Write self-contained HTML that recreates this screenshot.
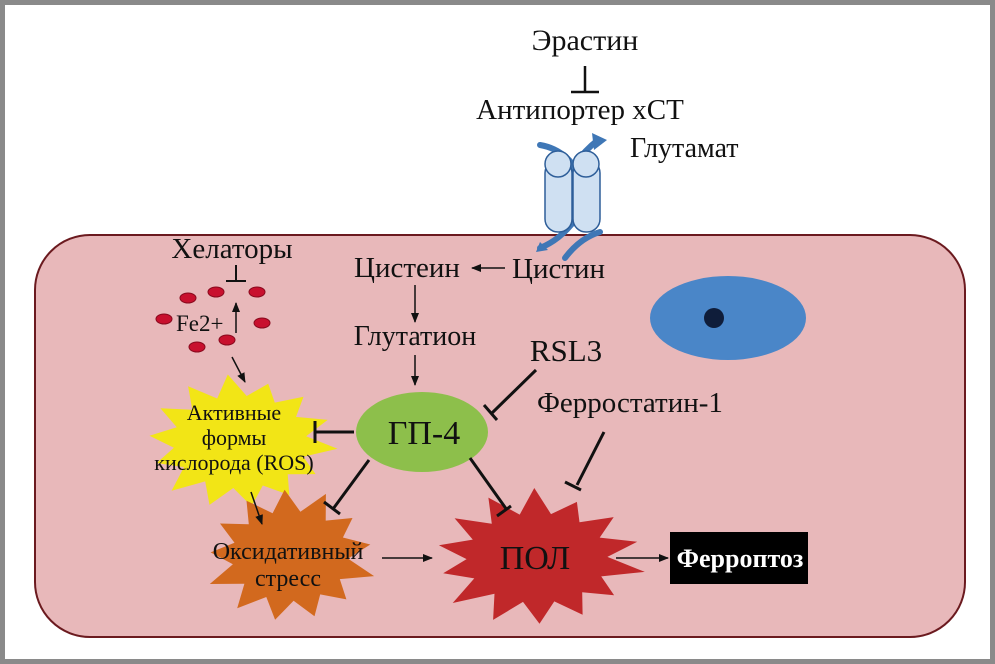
<!DOCTYPE html>
<html><head><meta charset="utf-8"><style>
html,body{margin:0;padding:0;background:#fff}
svg{display:block}
text{font-family:"Liberation Serif",serif;fill:#111}
</style></head><body>
<svg id="s" width="995" height="664" viewBox="0 0 995 664" xmlns="http://www.w3.org/2000/svg">
<defs>
<marker id="a" markerWidth="10" markerHeight="8" refX="9" refY="4" orient="auto" markerUnits="userSpaceOnUse"><path d="M0,0 L10,4 L0,8 Z" fill="#111"/></marker>
</defs>
<rect x="0" y="0" width="995" height="664" fill="#8a8a8a"/>
<rect x="5" y="5" width="985" height="654" fill="#fff"/>
<rect x="35" y="235" width="930" height="402" rx="55" fill="#e8b8ba" stroke="#6b1a1f" stroke-width="2"/>
<ellipse cx="728" cy="318" rx="78" ry="42" fill="#4a86c8"/>
<circle cx="714" cy="318" r="10" fill="#0f1d3a"/>

<text x="585" y="50" font-size="30" text-anchor="middle">Эрастин</text>
<line x1="585" y1="66" x2="585" y2="92" stroke="#111" stroke-width="2.5"/>
<line x1="571" y1="92" x2="599" y2="92" stroke="#111" stroke-width="2.5"/>
<text x="580" y="119" font-size="29" text-anchor="middle">Антипортер xCT</text>
<text x="630" y="157" font-size="28">Глутамат</text>

<g stroke="#3f77b6" stroke-width="6" fill="none" stroke-linecap="round">
<path d="M540,145 Q570,150 585,185"/>
<path d="M600,232 Q580,238 565,258"/>
<path d="M560,195 Q572,160 598,140"/>
<path d="M575,220 Q560,240 540,248"/>
</g>
<path d="M592,133 L607,140 L594,150 Z" fill="#3f77b6"/>
<path d="M540,242 L536,252 L548,250 Z" fill="#3f77b6"/>
<g fill="#cfe0f2" stroke="#2e5e99" stroke-width="1.5">
<rect x="545" y="160" width="27" height="72" rx="13"/>
<rect x="573" y="160" width="27" height="72" rx="13"/>
<ellipse cx="558" cy="164" rx="13" ry="13"/>
<ellipse cx="586" cy="164" rx="13" ry="13"/>
</g>

<text x="232" y="258" font-size="29" text-anchor="middle">Хелаторы</text>
<line x1="236" y1="265" x2="236" y2="281" stroke="#111" stroke-width="2"/>
<line x1="226" y1="281" x2="246" y2="281" stroke="#111" stroke-width="2"/>
<g fill="#c8102e" stroke="#8a0a1e" stroke-width="1">
<ellipse cx="188" cy="298" rx="8" ry="5"/>
<ellipse cx="216" cy="292" rx="8" ry="5"/>
<ellipse cx="257" cy="292" rx="8" ry="5"/>
<ellipse cx="164" cy="319" rx="8" ry="5"/>
<ellipse cx="262" cy="323" rx="8" ry="5"/>
<ellipse cx="197" cy="347" rx="8" ry="5"/>
<ellipse cx="227" cy="340" rx="8" ry="5"/>
</g>
<text x="176" y="331" font-size="23">Fe2+</text>
<line x1="236" y1="333" x2="236" y2="303" stroke="#111" stroke-width="1.5" marker-end="url(#a)"/>
<line x1="232" y1="357" x2="245" y2="382" stroke="#111" stroke-width="1.5" marker-end="url(#a)"/>

<text x="407" y="277" font-size="29" text-anchor="middle">Цистеин</text>
<line x1="505" y1="268" x2="472" y2="268" stroke="#111" stroke-width="1.5" marker-end="url(#a)"/>
<text x="512" y="278" font-size="29">Цистин</text>
<line x1="415" y1="285" x2="415" y2="322" stroke="#111" stroke-width="1.5" marker-end="url(#a)"/>
<text x="415" y="345" font-size="28" text-anchor="middle">Глутатион</text>
<line x1="415" y1="355" x2="415" y2="385" stroke="#111" stroke-width="1.5" marker-end="url(#a)"/>

<polygon id="ys" fill="#f2e516"/>
<polygon id="os" fill="#d2691e"/>
<polygon id="rs" fill="#c0282a"/>

<ellipse cx="422" cy="432" rx="66" ry="40" fill="#8dbf4b"/>
<text x="424" y="444" font-size="34" text-anchor="middle">ГП-4</text>

<text x="566" y="361" font-size="31" text-anchor="middle">RSL3</text>
<g stroke="#111" stroke-width="3">
<line x1="536" y1="370" x2="492" y2="413"/><line x1="484" y1="405" x2="497" y2="420"/>
<line x1="604" y1="432" x2="577" y2="485"/><line x1="565" y1="482" x2="581" y2="490"/>
<line x1="354" y1="432" x2="315" y2="432"/><line x1="315" y1="421" x2="315" y2="443"/>
<line x1="369" y1="460" x2="333" y2="509"/><line x1="324" y1="502" x2="340" y2="514"/>
<line x1="470" y1="458" x2="507" y2="510"/><line x1="497" y1="516" x2="511" y2="506"/>
</g>
<text x="537" y="412" font-size="29">Ферростатин-1</text>

<text x="234" y="420" font-size="22" text-anchor="middle">Активные</text>
<text x="234" y="445" font-size="22" text-anchor="middle">формы</text>
<text x="234" y="470" font-size="22" text-anchor="middle">кислорода (ROS)</text>
<line x1="251" y1="492" x2="262" y2="524" stroke="#111" stroke-width="1.5" marker-end="url(#a)"/>
<text x="288" y="559" font-size="24" text-anchor="middle">Оксидативный</text>
<text x="288" y="586" font-size="24" text-anchor="middle">стресс</text>
<line x1="382" y1="558" x2="432" y2="558" stroke="#111" stroke-width="1.5" marker-end="url(#a)"/>
<text x="535" y="569" font-size="34" text-anchor="middle">ПОЛ</text>
<line x1="616" y1="558" x2="668" y2="558" stroke="#111" stroke-width="1.5" marker-end="url(#a)"/>
<rect x="670" y="532" width="138" height="52" fill="#000"/>
<text x="740" y="567" font-size="26" font-weight="bold" text-anchor="middle" style="fill:#fff">Ферроптоз</text>
</svg>
<script>
function star(id,cx,cy,rx,ry,n,k,rot,jit){
 var p=[];for(var i=0;i<2*n;i++){var t=rot+Math.PI*i/n;var f=i%2?k:1;if(!(i%2))f*=1-jit*((i*7)%5)/5;p.push((cx+rx*f*Math.cos(t)).toFixed(1)+','+(cy+ry*f*Math.sin(t)).toFixed(1));}
 document.getElementById(id).setAttribute('points',p.join(' '));}
star('ys',240,442,98,68,14,0.68,0.1,0.12);
star('os',290,556,88,68,13,0.66,0.3,0.12);
star('rs',537,558,110,70,14,0.64,0.2,0.15);
</script>
</body></html>
